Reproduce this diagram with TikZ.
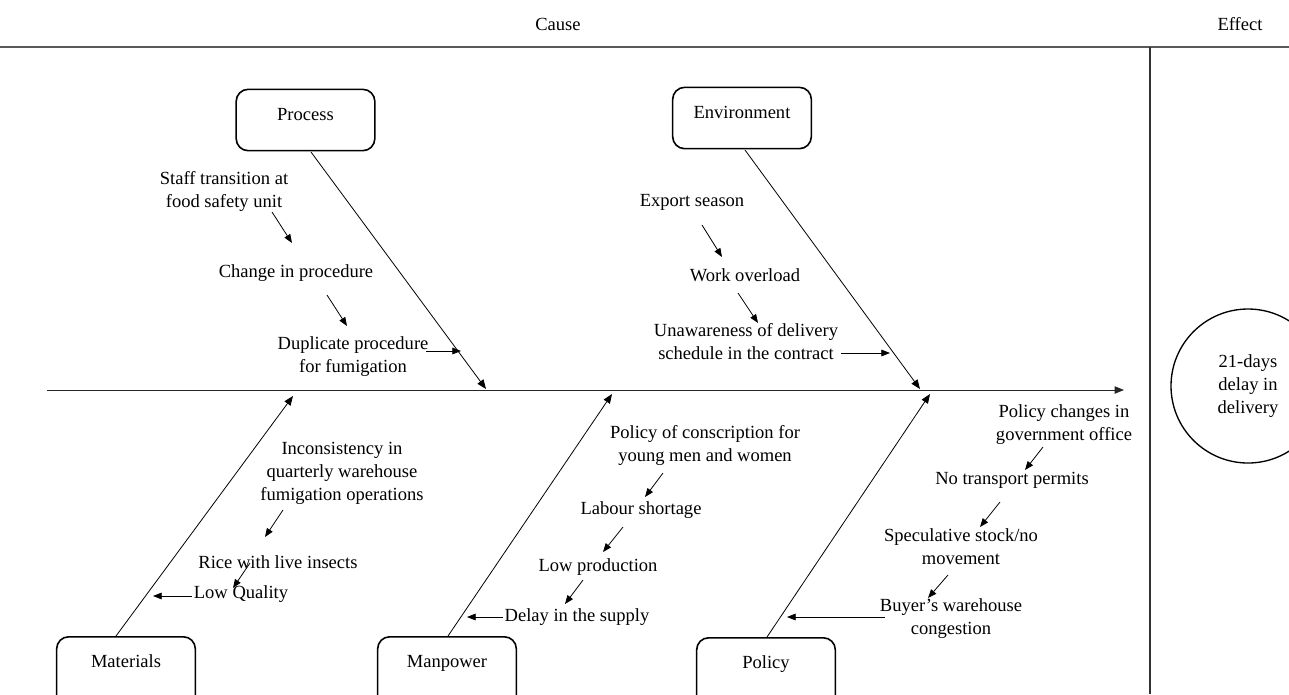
\documentclass[tikz,border=0pt]{standalone}
\usepackage{fontspec}
\setmainfont{Liberation Serif}
\usetikzlibrary{arrows.meta}
\begin{document}
\begin{tikzpicture}[x=0.75pt,y=-0.75pt,
  font=\fontsize{13.9}{17.25}\selectfont,
  lbl/.style={align=center, inner sep=0pt},
  catbox/.style={draw, rounded corners=9pt, line width=1.2pt, minimum width=104pt, minimum height=46pt, inner sep=0pt},
  arr/.style={-{Triangle[length=6.5pt,width=5pt]}, line width=0.6pt},
  bone/.style={-{Triangle[length=7pt,width=5.5pt]}, line width=0.6pt}]
\useasboundingbox (0,0) rectangle (1289,694);
\clip (0,0) rectangle (1289,694);

% header
\node[lbl] (cause) at (558,24) {Cause};
\node[lbl] (effect) at (1240,24) {Effect};
\coordinate (tl0) at (0,47);
\coordinate (tl1) at (1289,47);
\draw[line width=1.3pt, black!65] (tl0) -- (tl1);
\coordinate (vl0) at (1150,47);
\coordinate (vl1) at (1150,694);
\draw[line width=0.8pt, black!80] (vl0) -- (vl1);

% spine
\coordinate (sp0) at (47,390);
\coordinate (sp1) at (1124,390);
\draw[bone, black!85] (sp0) -- (sp1);

% effect
\node[draw, circle, line width=1pt, minimum size=115.5pt, inner sep=0pt, align=center] (eff) at (1248,386) {21-days\\delay in\\delivery};

% category boxes
\node[catbox] (procbox) at (305.5,120) {};
\node[lbl] (proctxt) at (305.5,115) {Process};
\node[catbox] (envbox) at (742,118) {};
\node[lbl] (envtxt) at (742,112) {Environment};
\node[catbox, anchor=north, minimum height=56pt] (matbox) at (126,636) {};
\node[lbl, anchor=base] (mattxt) at (126,667) {Materials};
\node[catbox, anchor=north, minimum height=56pt] (manbox) at (447,636) {};
\node[lbl, anchor=base] (mantxt) at (447,667) {Manpower};
\node[catbox, anchor=north, minimum height=56pt] (polbox) at (766,637) {};
\node[lbl, anchor=base] (poltxt) at (766,668) {Policy};

% bones
\coordinate (pb0) at (311,152);  \coordinate (pb1) at (486,389);
\coordinate (eb0) at (745,150);  \coordinate (eb1) at (920,389);
\coordinate (mb0) at (116,636);  \coordinate (mb1) at (293,396);
\coordinate (nb0) at (448,636);  \coordinate (nb1) at (612,394);
\coordinate (ob0) at (767,637);  \coordinate (ob1) at (930,394);
\draw[bone] (pb0) -- (pb1);
\draw[bone] (eb0) -- (eb1);
\draw[bone] (mb0) -- (mb1);
\draw[bone] (nb0) -- (nb1);
\draw[bone] (ob0) -- (ob1);

% Process causes
\node[lbl] (p1) at (224,191) {Staff transition at\\food safety unit};
\node[lbl] (p2) at (296,273) {Change in procedure};
\node[lbl] (p3) at (353,357) {Duplicate procedure\\for fumigation};
\coordinate (pa0) at (272,212); \coordinate (pa1) at (292,243);
\coordinate (pc0) at (327,295); \coordinate (pc1) at (347,326);
\coordinate (pd0) at (426,351); \coordinate (pd1) at (461,351);
\draw[arr] (pa0) -- (pa1);
\draw[arr] (pc0) -- (pc1);
\draw[arr] (pd0) -- (pd1);

% Environment causes
\node[lbl] (e1) at (692,202) {Export season};
\node[lbl] (e2) at (745,275) {Work overload};
\node[lbl] (e3) at (746,342) {Unawareness of delivery\\schedule in the contract};
\coordinate (ea0) at (702,225); \coordinate (ea1) at (722,257);
\coordinate (ec0) at (738,293); \coordinate (ec1) at (758,323);
\coordinate (ed0) at (841,353); \coordinate (ed1) at (890,353);
\draw[arr] (ea0) -- (ea1);
\draw[arr] (ec0) -- (ec1);
\draw[arr] (ed0) -- (ed1);

% Materials causes
\node[lbl] (m1) at (342,473) {Inconsistency in\\quarterly warehouse\\fumigation operations};
\node[lbl] (m2) at (278,562) {Rice with live insects};
\node[lbl] (m3) at (241,594) {Low Quality};
\coordinate (ma0) at (283,510); \coordinate (ma1) at (265,537);
\coordinate (mc0) at (250,563); \coordinate (mc1) at (233,588);
\coordinate (md0) at (192,596); \coordinate (md1) at (153,596);
\draw[arr] (ma0) -- (ma1);
\draw[arr] (mc0) -- (mc1);
\draw[arr] (md0) -- (md1);

% Manpower causes
\node[lbl] (n1) at (705,445) {Policy of conscription for\\young men and women};
\node[lbl] (n2) at (641,510) {Labour shortage};
\node[lbl] (n3) at (598,567) {Low production};
\node[lbl] (n4) at (577,617) {Delay in the supply};
\coordinate (na0) at (663,473); \coordinate (na1) at (645,497);
\coordinate (nc0) at (623,527); \coordinate (nc1) at (603,552);
\coordinate (nd0) at (583,580); \coordinate (nd1) at (565,604);
\coordinate (ne0) at (503,617); \coordinate (ne1) at (467,617);
\draw[arr] (na0) -- (na1);
\draw[arr] (nc0) -- (nc1);
\draw[arr] (nd0) -- (nd1);
\draw[arr] (ne0) -- (ne1);

% Policy causes
\node[lbl] (o1) at (1064,425) {Policy changes in\\government office};
\node[lbl] (o2) at (1012,480) {No transport permits};
\node[lbl] (o3) at (961,547) {Speculative stock/no\\movement};
\node[lbl] (o4) at (951,619) {Buyer’s warehouse\\congestion};
\coordinate (oa0) at (1043,447); \coordinate (oa1) at (1025,470);
\coordinate (oc0) at (1000,502); \coordinate (oc1) at (980,527);
\coordinate (od0) at (948,575); \coordinate (od1) at (928,598);
\coordinate (oe0) at (885,617); \coordinate (oe1) at (787,617);
\draw[arr] (oa0) -- (oa1);
\draw[arr] (oc0) -- (oc1);
\draw[arr] (od0) -- (od1);
\draw[arr] (oe0) -- (oe1);
\end{tikzpicture}
\end{document}
